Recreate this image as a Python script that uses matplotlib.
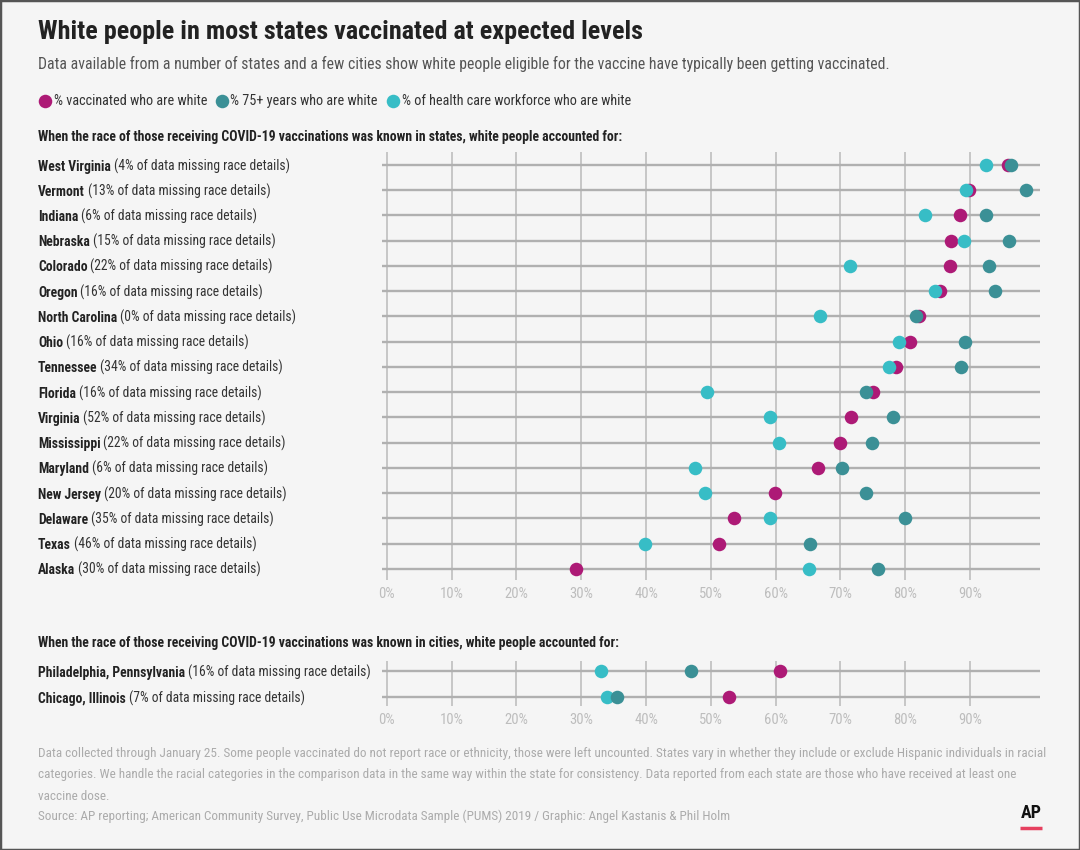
import matplotlib
matplotlib.use("Agg")
import matplotlib.pyplot as plt
import matplotlib.font_manager as fm
from matplotlib.patches import Rectangle

# ---- choose the narrowest installed sans family ----
_entries = fm.fontManager.ttflist
_names = {e.name for e in _entries}
FAMILY, STRETCH = None, 'normal'
for _nm in ['Roboto Condensed', 'Liberation Sans Narrow', 'Open Sans Condensed',
            'DejaVu Sans Condensed']:
    if _nm in _names:
        FAMILY = _nm
        break
if FAMILY is None:
    if any(e.name == 'DejaVu Sans' and 'condensed' in str(e.stretch) for e in _entries):
        FAMILY, STRETCH = 'DejaVu Sans', 'condensed'
    elif 'Roboto' in _names:
        FAMILY = 'Roboto'
    else:
        FAMILY = 'DejaVu Sans'
plt.rcParams['font.family'] = [FAMILY, 'DejaVu Sans']
plt.rcParams['font.stretch'] = STRETCH

# ---------------- data ----------------
states = ["West Virginia", "Vermont", "Indiana", "Nebraska", "Colorado", "Oregon",
          "North Carolina", "Ohio", "Tennessee", "Florida", "Virginia", "Mississippi",
          "Maryland", "New Jersey", "Delaware", "Texas", "Alaska"]
states_missing = [4, 13, 6, 15, 22, 16, 0, 16, 34, 16, 52, 22, 6, 20, 35, 46, 30]
states_vaccinated = [95.8, 89.9, 88.4, 87.1, 86.9, 85.3, 82.1, 80.8, 78.6, 75.0,
                     71.6, 69.9, 66.6, 59.9, 53.6, 51.3, 29.2]
states_age75 = [96.3, 98.7, 92.4, 96.0, 93.0, 93.8, 81.7, 89.2, 88.6, 73.9,
                78.1, 74.9, 70.3, 73.9, 80.0, 65.3, 75.8]
states_health = [92.4, 89.4, 83.0, 89.1, 71.4, 84.6, 66.8, 79.1, 77.5, 49.4,
                 59.2, 60.5, 47.5, 49.1, 59.2, 39.9, 65.1]

cities = ["Philadelphia, Pennsylvania", "Chicago, Illinois"]
cities_missing = [16, 7]
cities_vaccinated = [60.7, 52.8]
cities_age75 = [47.0, 35.5]
cities_health = [33.0, 34.0]

tick_values = [0, 10, 20, 30, 40, 50, 60, 70, 80, 90]
tick_labels = [f"{t}%" for t in tick_values]

series_labels = ["% vaccinated who are white", "% 75+ years who are white",
                 "% of health care workforce who are white"]

# ---------------- style ----------------
C_VAC = '#ad1a76'
C_AGE = '#3b9096'
C_HEA = '#37bdc6'
BG = '#f5f5f5'
HLINE = '#b0b0b0'
VLINE = '#c6c6c6'
TICKC = '#bdbdbd'
W, H = 1080, 850

fig = plt.figure(figsize=(W / 100, H / 100), dpi=100, facecolor=BG)
renderer = fig.canvas.get_renderer()

ov = fig.add_axes([0, 0, 1, 1])
ov.set_xlim(0, W)
ov.set_ylim(H, 0)
ov.axis('off')
ov.patch.set_alpha(0)


def width_of(artist):
    return artist.get_window_extent(renderer).width


def fit(artist, target):
    artist.set_fontsize(artist.get_fontsize() * target / width_of(artist))
    return artist.get_fontsize()


def ax_rect(left, right, top, bottom):
    return [left / W, 1 - bottom / H, (right - left) / W, (bottom - top) / H]


def draw_panel(ax, names, vac, age, hea, pad_top, pad_bot):
    n = len(names)
    ax.set_facecolor('none')
    ax.set_xlim(-0.8, 100.8)
    ax.set_ylim(n - 1 + pad_bot, -pad_top)
    for s in ax.spines.values():
        s.set_visible(False)
    for t in tick_values:
        ax.axvline(t, color=VLINE, lw=1.4, zorder=0.5)
    ys = list(range(n))
    for y in ys:
        ax.axhline(y, color=HLINE, lw=1.7, zorder=1)
    ax.scatter(vac, ys, s=95, color=C_VAC, linewidths=0, zorder=3)
    ax.scatter(hea, ys, s=95, color=C_HEA, linewidths=0, zorder=4)
    ax.scatter(age, ys, s=95, color=C_AGE, linewidths=0, zorder=5)
    ax.set_yticks([])
    ax.set_xticks(tick_values)
    ax.set_xticklabels(tick_labels)
    ax.tick_params(axis='x', length=0, pad=5, labelcolor=TICKC)


ax1 = fig.add_axes(ax_rect(381.7, 1040, 152, 580))
draw_panel(ax1, states, states_vaccinated, states_age75, states_health, 0.515, 0.44)
ax2 = fig.add_axes(ax_rect(381.7, 1040, 661, 706))
draw_panel(ax2, cities, cities_vaccinated, cities_age75, cities_health, 0.385, 0.346)

# tick label size: "90%" about 23 px wide
probe = ov.text(0, 0, "90%", fontsize=10)
tick_fs = 10 * 23.5 / width_of(probe)
probe.remove()
for ax in (ax1, ax2):
    ax.tick_params(axis='x', labelsize=tick_fs)


def row_labels(ax, names, missing, fs):
    out = []
    for i, (nm, m) in enumerate(zip(names, missing)):
        ypx = H - ax.transData.transform((0, i))[1] + 1.5
        t = ov.text(38, ypx, nm, fontsize=fs, fontweight='bold', color='#222222',
                    va='center', ha='left')
        a = ov.annotate(f"({m}% of data missing race details)", xy=(1, 0), xycoords=t,
                        xytext=(2, 0), textcoords='offset points', fontsize=fs,
                        color='#333333', va='bottom', ha='left')
        out.append((t, a))
    return out


fs0 = 11
lab1 = row_labels(ax1, states, states_missing, fs0)
t0, a0 = lab1[0]
fig.canvas.draw()
w0 = a0.get_window_extent(renderer).x1 - t0.get_window_extent(renderer).x0
row_fs = fs0 * 252 / w0
for t, a in lab1:
    t.set_fontsize(row_fs)
    a.set_fontsize(row_fs)
row_labels(ax2, cities, cities_missing, row_fs)

# ---- titles ----
title = ov.text(38, 32, "White people in most states vaccinated at expected levels",
                fontsize=20, fontweight='bold', color='#222222', va='center', ha='left')
fit(title, 604)
sub = ov.text(38, 64, "Data available from a number of states and a few cities show white people "
              "eligible for the vaccine have typically been getting vaccinated.",
              fontsize=12, color='#555555', va='center', ha='left')
fit(sub, 848)

# ---- legend (sequential layout: dot, text, gap) ----
LEG_Y = 101
DOT_TO_TEXT = 8.5
TEXT_TO_DOT = 15
leg_texts = [ov.text(0, LEG_Y, lab, fontsize=11, color='#333333', va='center', ha='left')
             for lab in series_labels]
total = sum(width_of(t) for t in leg_texts)
target_total = 632 - 45 - 3 * DOT_TO_TEXT - 2 * TEXT_TO_DOT
leg_fs = 11 * target_total / total
x = 45
for t, c in zip(leg_texts, [C_VAC, C_AGE, C_HEA]):
    t.set_fontsize(leg_fs)
    ov.scatter([x], [LEG_Y], s=95, color=c, linewidths=0)
    t.set_x(x + DOT_TO_TEXT)
    x = x + DOT_TO_TEXT + width_of(t) + TEXT_TO_DOT

h1 = ov.text(38, 137, "When the race of those receiving COVID-19 vaccinations was known in states, "
             "white people accounted for:", fontsize=11, fontweight='bold', color='#222222',
             va='center', ha='left')
hfs = fit(h1, 584)
ov.text(38, 643, "When the race of those receiving COVID-19 vaccinations was known in cities, "
        "white people accounted for:", fontsize=hfs, fontweight='bold', color='#222222',
        va='center', ha='left')

# ---- footer ----
foot = [
    "Data collected through January 25. Some people vaccinated do not report race or ethnicity, "
    "those were left uncounted. States vary in whether they include or exclude Hispanic individuals in racial",
    "categories. We handle the racial categories in the comparison data in the same way within the "
    "state for consistency. Data reported from each state are those who have received at least one",
    "vaccine dose.",
]
f0 = ov.text(38, 753, foot[0], fontsize=10, color='#ababab', va='center', ha='left')
ffs = fit(f0, 1002)
for k, line in enumerate(foot[1:], start=1):
    ov.text(38, 753 + 21.5 * k, line, fontsize=ffs, color='#ababab', va='center', ha='left')
ov.text(38, 816, "Source: AP reporting; American Community Survey, Public Use Microdata Sample "
        "(PUMS) 2019 / Graphic: Angel Kastanis & Phil Holm", fontsize=ffs, color='#ababab',
        va='center', ha='left')

# AP logo
ov.text(1031, 813, "AP", fontsize=13, fontweight='bold', color='#111111', va='center',
        ha='center')
ov.plot([1020, 1042], [828, 828], color='#e6405f', lw=2.5, solid_capstyle='butt')

fig.add_artist(Rectangle((0, 0), 1, 1, transform=fig.transFigure, fill=False,
                         edgecolor='#555555', lw=2.5))

fig.savefig("out.png", dpi=100, facecolor=BG)
